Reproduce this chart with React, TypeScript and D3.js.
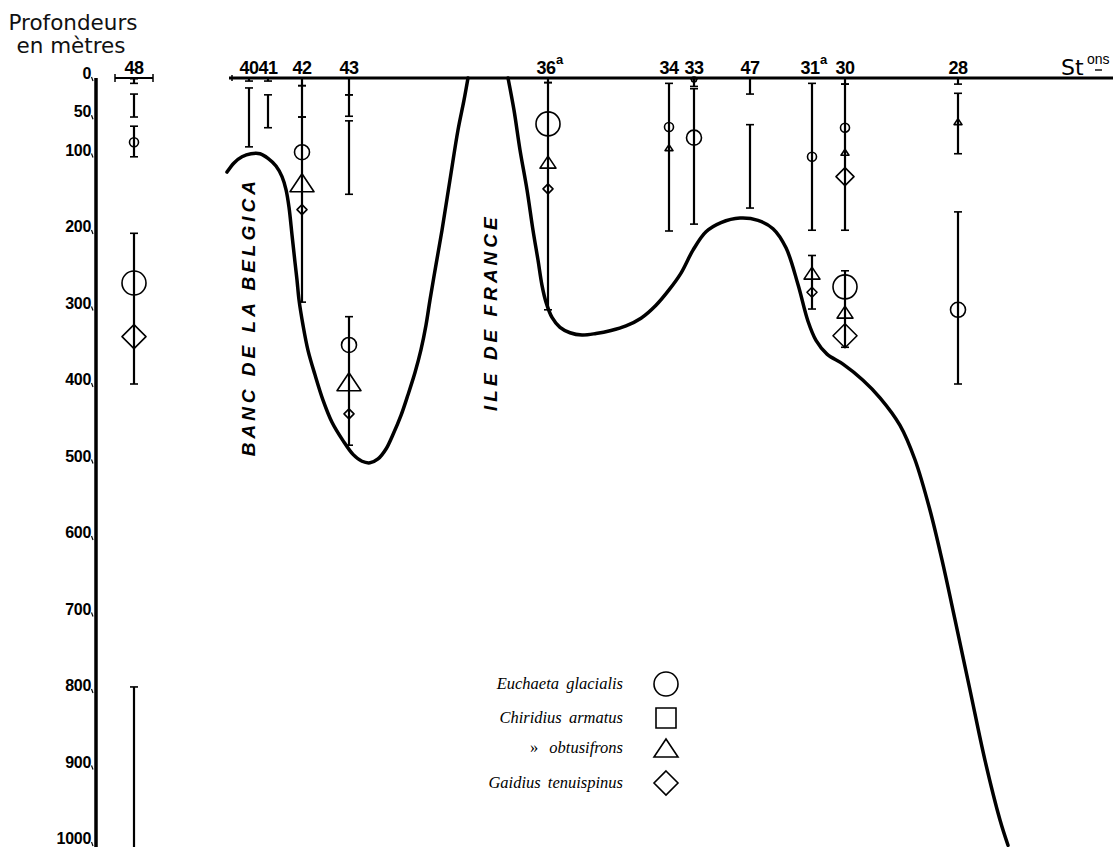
import React from "react";
import * as d3 from "d3";

const W = 1113;
const H = 847;

// depth axis ticks (metres)
const depthTicks = [0, 50, 100, 200, 300, 400, 500, 600, 700, 800, 900, 1000];

// stations along the section (distance in arbitrary section units)
const stationNames = ["48", "40", "41", "42", "43", "36", "34", "33", "47", "31", "30", "28"];
const stationSup = ["", "", "", "", "", "a", "", "", "", "a", "", ""];
const stationDist = [38, 153, 172, 206, 253, 452, 573, 598, 654, 716, 749, 862];

// vertical hauls: station index, top depth, bottom depth
const segStation = [0, 0, 0, 0, 0, 1, 1, 2, 2, 3, 3, 3, 4, 4, 4, 4, 5, 5, 6, 7, 7, 8, 8, 9, 9, 10, 10, 10, 11, 11, 11];
const segTop = [1, 21, 63, 203, 796, 0, 13, 0, 22, 0, 10, 51, 0, 22, 56, 312, 0, 6, 7, 1, 14, 0, 61, 7, 232, 0, 8, 252, 0, 20, 175];
const segBottom = [7, 51, 103, 400, 1010, 4, 90, 4, 65, 10, 51, 293, 22, 50, 152, 480, 6, 303, 200, 11, 191, 21, 170, 199, 302, 8, 199, 352, 8, 99, 400];

// captures: station index, depth, species code, size class
// E = Euchaeta glacialis, C = Chiridius armatus, O = Chiridius obtusifrons, G = Gaidius tenuispinus
const markStation = [0, 0, 0, 3, 3, 3, 4, 4, 4, 5, 5, 5, 6, 6, 7, 7, 9, 9, 9, 10, 10, 10, 10, 10, 10, 11, 11];
const markDepth = [84, 268, 338, 97, 137, 172, 349, 397, 439, 60, 110, 145, 64, 91, 2, 78, 103, 255, 280, 65, 97, 129, 273, 306, 337, 57, 303];
const markSpecies = ["E", "E", "G", "E", "O", "G", "E", "O", "G", "E", "O", "G", "E", "O", "E", "E", "E", "O", "G", "E", "O", "G", "E", "O", "G", "O", "E"];
const markSize = ["S", "L", "L", "M", "L", "S", "M", "L", "S", "L", "M", "S", "S", "S", "T", "M", "S", "M", "S", "S", "S", "M", "L", "M", "L", "S", "M"];

// sea-floor profile: Banc de la Belgica side
const bankDist = [131, 138, 146, 155, 164, 172, 180, 186, 190, 193, 196, 199, 201, 203, 207, 212, 219, 227, 236, 247, 257, 266, 274, 282, 290, 297, 305, 312, 319, 325, 330, 334, 340, 346, 354, 362, 368, 372];
const bankDepth = [123, 111, 103, 99, 99, 105, 115, 129, 146, 169, 205, 241, 264, 290, 323, 356, 388, 421, 450, 474, 492, 501, 503, 498, 485, 466, 441, 414, 385, 355, 323, 290, 244, 199, 133, 68, 29, 0];

// sea-floor profile: east of Ile de France
const eastDist = [412, 418, 424, 431, 437, 442, 446, 450, 456, 464, 474, 486, 500, 515, 530, 545, 560, 573, 585, 597, 610, 625, 644, 662, 677, 690, 702, 712, 720, 731, 747, 767, 784, 804, 819, 834, 846, 859, 874, 889, 904, 912];
const eastDepth = [0, 42, 94, 146, 199, 238, 271, 293, 313, 326, 333, 336, 334, 330, 324, 314, 297, 277, 255, 225, 201, 189, 183, 186, 197, 222, 270, 318, 343, 361, 374, 395, 418, 454, 499, 565, 630, 708, 800, 892, 970, 1003];

// legend
const legendSpecies = ["E", "C", "O", "G"];
const legendLabels = ["Euchaeta glacialis", "Chiridius armatus", "obtusifrons", "Gaidius tenuispinus"];

const x = d3.scaleLinear().domain([0, 1017]).range([96, 1113]);
const y = d3.scaleLinear().domain([0, 1000]).range([78, 843]);

const circleR: Record<string, number> = { T: 2.5, S: 4.5, M: 7.5, L: 12 };
const triW: Record<string, number> = { T: 6, S: 8, M: 16, L: 24 };
const diaR: Record<string, number> = { T: 3, S: 5, M: 9, L: 12 };

function symbolPath(sp: string, size: string, cx: number, cy: number): string {
  if (sp === "E") {
    const r = circleR[size];
    return `M${cx - r},${cy}a${r},${r} 0 1,0 ${2 * r},0a${r},${r} 0 1,0 ${-2 * r},0Z`;
  }
  if (sp === "O") {
    const w = triW[size];
    const h = w * 0.75;
    return `M${cx},${cy - h / 2}L${cx + w / 2},${cy + h / 2}L${cx - w / 2},${cy + h / 2}Z`;
  }
  if (sp === "G") {
    const r = diaR[size];
    return `M${cx},${cy - r}L${cx + r},${cy}L${cx},${cy + r}L${cx - r},${cy}Z`;
  }
  const s = size === "L" ? 10 : 6;
  return `M${cx - s},${cy - s}h${2 * s}v${2 * s}h${-2 * s}Z`;
}

function profilePath(dist: number[], depth: number[]): string {
  const pts: [number, number][] = dist.map((d, i) => [x(d), y(depth[i])]);
  return d3.line().curve(d3.curveCatmullRom.alpha(0.5))(pts) || "";
}

export default function App() {
  const sansHead = "'DejaVu Sans', sans-serif";
  const sansBold = "'Liberation Sans', Arial, sans-serif";
  const serif = "'Liberation Serif', 'Times New Roman', serif";

  const legendY = [684, 718, 748, 783];

  return (
    <svg width={W} height={H} style={{ position: "absolute", left: 0, top: 0, background: "#fff" }}>
      <rect x={0} y={0} width={W} height={H} fill="#fff" />

      {/* header */}
      <text x={73} y={30} textAnchor="middle" fontFamily={sansHead} fontSize={21.5} fill="#111">
        Profondeurs
      </text>
      <text x={71} y={53} textAnchor="middle" fontFamily={sansHead} fontSize={21.5} fill="#111">
        en mètres
      </text>

      {/* depth axis */}
      <line x1={x(0)} y1={y(0)} x2={x(0)} y2={H} stroke="#000" strokeWidth={3.5} />
      {depthTicks.map((d) => (
        <g key={d}>
          <text
            x={91}
            y={y(d) + 1}
            textAnchor="end"
            fontFamily={sansBold}
            fontWeight="bold"
            fontSize={16}
            letterSpacing={-0.3}
            fill="#000"
          >
            {d}
          </text>
          <line x1={91.5} y1={y(d) - 1} x2={93} y2={y(d) + 3} stroke="#000" strokeWidth={1.2} />
        </g>
      ))}

      {/* surface line */}
      <line x1={x(133)} y1={y(0)} x2={W} y2={y(0)} stroke="#000" strokeWidth={3} />
      <line x1={x(136)} y1={y(0) - 3} x2={x(136)} y2={y(0) + 3} stroke="#000" strokeWidth={1.5} />
      {/* station 48 short surface bar */}
      <line x1={x(stationDist[0]) - 19} y1={y(0)} x2={x(stationDist[0]) + 19} y2={y(0)} stroke="#000" strokeWidth={2} />
      <line x1={x(stationDist[0]) - 19} y1={y(0) - 4} x2={x(stationDist[0]) - 19} y2={y(0) + 4} stroke="#000" strokeWidth={1.5} />
      <line x1={x(stationDist[0]) + 19} y1={y(0) - 4} x2={x(stationDist[0]) + 19} y2={y(0) + 4} stroke="#000" strokeWidth={1.5} />

      {/* station labels */}
      {stationNames.map((n, i) => {
        const cx = x(stationDist[i]) - (stationSup[i] ? 2 : 0);
        return (
          <g key={i}>
            <text x={cx} y={74} textAnchor="middle" fontFamily={sansBold} fontWeight="bold" fontSize={18} letterSpacing={-0.5} fill="#000">
              {n}
            </text>
            {stationSup[i] && (
              <text x={cx + 10} y={64} fontFamily={sansBold} fontWeight="bold" fontSize={13} fill="#000">
                {stationSup[i]}
              </text>
            )}
          </g>
        );
      })}
      <text x={1061} y={75} fontFamily={sansHead} fontSize={22} fill="#000">
        St
      </text>
      <text x={1087} y={64} fontFamily={sansBold} fontSize={14} fill="#000">
        ons
      </text>
      <line x1={1095} y1={70} x2={1102} y2={70} stroke="#000" strokeWidth={1.4} />

      {/* sea floor profile */}
      <path d={profilePath(bankDist, bankDepth)} fill="none" stroke="#000" strokeWidth={3.5} strokeLinecap="round" />
      <path d={profilePath(eastDist, eastDepth)} fill="none" stroke="#000" strokeWidth={3.5} strokeLinecap="round" />

      {/* hauls */}
      {segStation.map((s, i) => {
        const cx = x(stationDist[s]);
        const y1 = y(segTop[i]);
        const y2 = y(segBottom[i]);
        return (
          <g key={i}>
            <line x1={cx} y1={y1} x2={cx} y2={y2} stroke="#000" strokeWidth={2.2} />
            <line x1={cx - 4} y1={y1} x2={cx + 4} y2={y1} stroke="#000" strokeWidth={1.6} />
            <line x1={cx - 4} y1={y2} x2={cx + 4} y2={y2} stroke="#000" strokeWidth={1.6} />
          </g>
        );
      })}

      {/* captures */}
      {markStation.map((s, i) => (
        <path
          key={i}
          d={symbolPath(markSpecies[i], markSize[i], x(stationDist[s]), y(markDepth[i]))}
          fill="none"
          stroke="#000"
          strokeWidth={1.6}
          strokeLinejoin="round"
        />
      ))}

      {/* region labels */}
      <text
        transform={`translate(${x(152) + 7},${y(312)}) rotate(-90)`}
        textAnchor="middle"
        fontFamily={sansBold}
        fontWeight="bold"
        fontStyle="italic"
        fontSize={19}
        letterSpacing={4}
        fill="#000"
      >
        BANC DE LA BELGICA
      </text>
      <text
        transform={`translate(${x(394) + 7},${y(306)}) rotate(-90)`}
        textAnchor="middle"
        fontFamily={sansBold}
        fontWeight="bold"
        fontStyle="italic"
        fontSize={19}
        letterSpacing={4}
        fill="#000"
      >
        ILE DE FRANCE
      </text>

      {/* legend */}
      {legendSpecies.map((sp, i) => (
        <g key={sp}>
          <text
            x={623}
            y={legendY[i] + 5}
            textAnchor="end"
            fontFamily={serif}
            fontStyle="italic"
            fontSize={16.5}
            wordSpacing={3}
            fill="#000"
          >
            {legendLabels[i]}
          </text>
          {sp === "O" && (
            <text x={530} y={legendY[i] + 5} fontFamily={serif} fontSize={16.5} fill="#000">
              »
            </text>
          )}
          <path d={symbolPath(sp, "L", 666, legendY[i])} fill="none" stroke="#000" strokeWidth={1.6} />
        </g>
      ))}
    </svg>
  );
}
